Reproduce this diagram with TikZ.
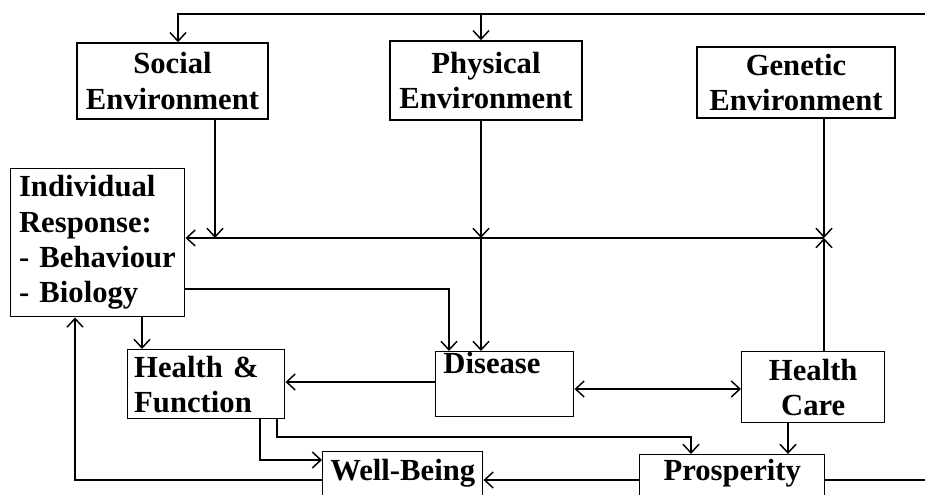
\documentclass[tikz,border=0pt]{standalone}
\usepackage{fontspec}
\setmainfont{Liberation Serif}
\usetikzlibrary{arrows.meta,positioning,calc}

\begin{document}
\begin{tikzpicture}[x=0.75pt, y=-0.75pt, line width=1.1pt,
    >={Straight Barb[length=6.5pt,width=12pt]},
    box/.style={draw, rectangle, inner sep=3pt, font=\bfseries\fontsize{23}{26.5}\selectfont, align=center}]
    \useasboundingbox (0,0) rectangle (925,495);
    \clip (0,0) rectangle (925,495);

    \node (soc) [box, minimum width=143.25pt, minimum height=57pt] at (172.5,81) {Social\\Environment};
    \node (phy) [box, minimum width=144pt, minimum height=59.25pt] at (486,80.5) {Physical\\Environment};
    \node (gen) [box, minimum width=148.5pt, minimum height=53.25pt] at (796,82.5) {Genetic\\Environment};
    \node (ind) [box, anchor=north west, minimum width=130.5pt, minimum height=111pt, text width=118pt, align=left] at (10,168) {Individual\\Response:\\- Behaviour\\- Biology};
    \node (dis) [box, anchor=north west, minimum width=103.5pt, text width=92pt, align=left, text height=13.5pt, text depth=29.25pt] at (435,351) {Disease};
    \node (hf) [box, anchor=north west, minimum width=117.75pt, minimum height=51.75pt, text width=108pt, align=left] at (127,349) {Health \&\\Function};
    \node (hc) [box, anchor=north west, minimum width=107.25pt, minimum height=53.25pt] at (741,351) {Health\\Care};
    \node (wb) [box, anchor=north west, minimum width=120pt, text height=18.5pt, text depth=30pt] at (322,451) {Well-Being};
    \node (pro) [box, anchor=north west, minimum width=138.75pt, text height=16.5pt, text depth=30pt] at (639,454) {Prosperity};

    \coordinate (jsoc) at (215,238);
    \coordinate (jphy) at (481,238);
    \coordinate (jgen) at (824,238);
    \coordinate (jind) at (449,289);
    \coordinate (xhf) at (142,0);
    \coordinate (ydh) at (0,382);
    \coordinate (ydc) at (0,389);
    \coordinate (xhc) at (788,0);
    \coordinate (xpro) at (691,0);
    \coordinate (jhp) at (277,437);
    \coordinate (jhw) at (260,460);
    \coordinate (jwi) at (75,480);
    \coordinate (topl) at (178,14);
    \coordinate (topr) at (945,14);
    \coordinate (botr) at (945,480);

    \draw [->] (soc.south -| jsoc) -- (jsoc);
    \draw [->] (phy.south -| jphy) -- (jphy);
    \draw [->] (jphy) -- (jphy |- dis.north);
    \draw [->] (gen.south -| jgen) -- (jgen);
    \draw [->] (hc.north -| jgen) -- (jgen);
    \draw [->] (jgen) -- (jgen -| ind.east);
    \draw [->] (ind.east |- jind) -- (jind) -- (jind |- dis.north);
    \draw [->] (ind.south -| xhf) -- (hf.north -| xhf);
    \draw [->] (dis.west |- ydh) -- (hf.east |- ydh);
    \draw [<->] (dis.east |- ydc) -- (hc.west |- ydc);
    \draw [->] (hc.south -| xhc) -- (pro.north -| xhc);
    \draw [->] (hf.south -| jhp) -- (jhp) -- (jhp -| xpro) -- (pro.north -| xpro);
    \draw [->] (hf.south -| jhw) -- (jhw) -- (wb.west |- jhw);
    \draw [->] (wb.west |- jwi) -- (jwi) -- (ind.south -| jwi);
    \draw [->] (pro.west |- jwi) -- (wb.east |- jwi);
    \draw [->] (pro.east |- jwi) -- (botr) -- (topr) -- (topl) -- (soc.north -| topl);
    \draw [->] (jphy |- topl) -- (jphy |- phy.north);
\end{tikzpicture}
\end{document}
